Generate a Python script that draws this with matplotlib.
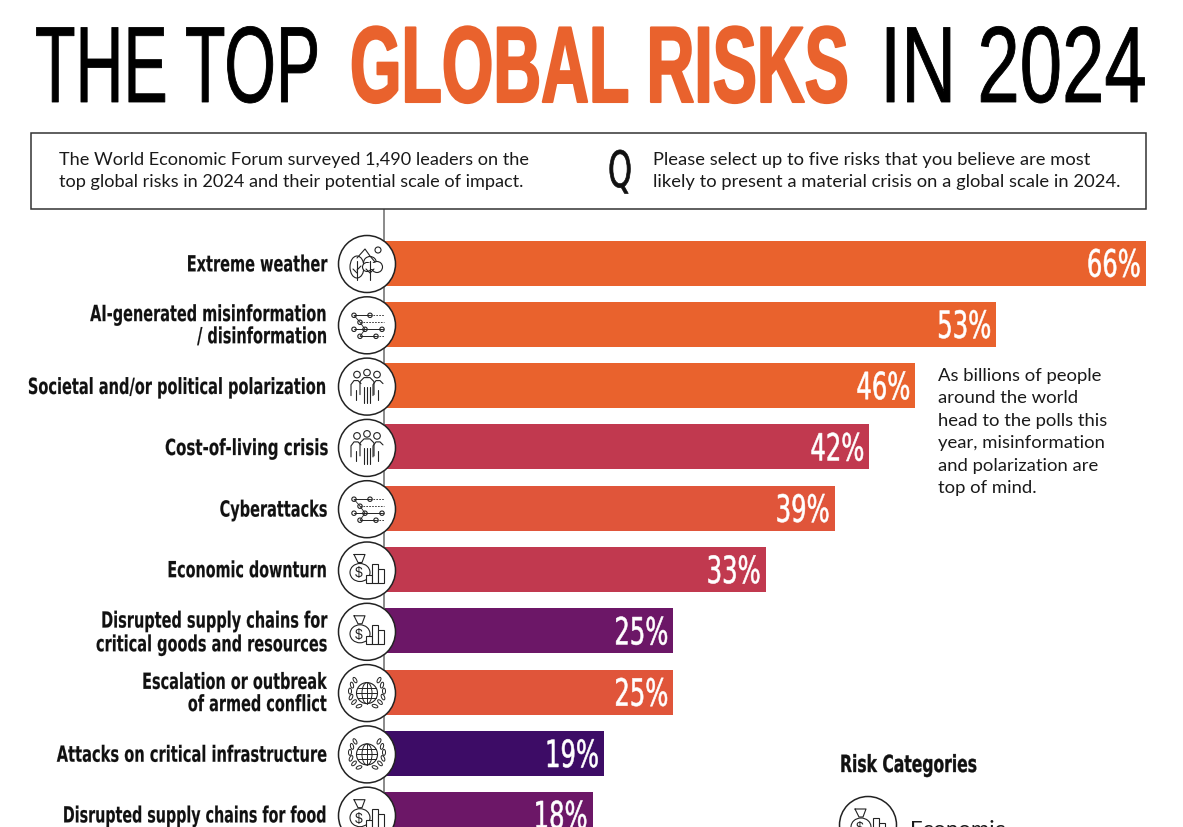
"""The top global risks in 2024: horizontal bar chart with category icons."""

import matplotlib

matplotlib.use("Agg")
import matplotlib.pyplot as plt
from matplotlib.patches import Circle, Ellipse, Rectangle
from matplotlib.patheffects import AbstractPathEffect
from matplotlib.transforms import Affine2D

risks = [
    "Extreme weather",
    "AI-generated misinformation\n/ disinformation",
    "Societal and/or political polarization",
    "Cost-of-living crisis",
    "Cyberattacks",
    "Economic downturn",
    "Disrupted supply chains for\ncritical goods and resources",
    "Escalation or outbreak\nof armed conflict",
    "Attacks on critical infrastructure",
    "Disrupted supply chains for food",
]
shares = [66, 53, 46, 42, 39, 33, 25, 25, 19, 18]
bar_colors = [
    "#E9622D", "#E9622D", "#E9622D", "#C1394F", "#E0553A",
    "#C1394F", "#6C1767", "#E0553A", "#3D0C66", "#6C1767",
]
icons = [
    "tree", "nodes", "people", "people", "nodes",
    "money", "money", "globe", "globe", "money",
]
label_widths = [141, 237, 299, 164, 108, 160, 232, 185, 271, 264]

W, H = 1183, 828
BAR_LEFT, BAR_RIGHT = 385, 1146
ROW_TOP, ROW_STEP = 264, 61.3  # pixel centre of first bar, row pitch
AXES_TOP = 209
SANS = "Liberation Sans"
NARROW = "Liberation Sans Narrow"
BODY = "Lato"
INK = "#1a1a1a"
LINE = "#222222"


class Stretch(AbstractPathEffect):
    """Make text taller about y0; no condensed DIN is installed."""

    def __init__(self, y0, sy, grow=0.0):
        super().__init__()
        self.y0, self.sy, self.grow = y0, sy, grow

    def draw_path(self, renderer, gc, tpath, affine, rgbFace=None):
        tall = affine + Affine2D().translate(0, -self.y0).scale(1, self.sy).translate(0, self.y0)
        gc0 = renderer.new_gc()
        gc0.copy_properties(gc)
        if self.grow:
            gc0.set_linewidth(self.grow)
            gc0.set_foreground(rgbFace)
        renderer.draw_path(gc0, tpath, tall, rgbFace)
        gc0.restore()


def fit_width(fig, text, width, grow=0.0):
    """Shrink a drawn text to `width` pixels, then stretch it back to its height."""
    renderer = fig.canvas.get_renderer()
    box = text.get_window_extent(renderer)
    scale = width / box.width
    text.set_fontsize(text.get_fontsize() * scale)
    box = text.get_window_extent(renderer)
    if text.get_va() == "baseline":
        y0 = text.get_transform().transform(text.get_position())[1]
    else:
        y0 = (box.y0 + box.y1) / 2
    text.set_path_effects([Stretch(y0, 1 / scale, grow)])


fig = plt.figure(figsize=(W / 100, H / 100), dpi=100, facecolor="white")

# bars: x in percent, y in row index, axes box placed to match the pixels
ax = fig.add_axes([BAR_LEFT / W, 0, (BAR_RIGHT - BAR_LEFT) / W, 1 - AXES_TOP / H])
ax.barh(range(len(shares)), shares, height=45 / ROW_STEP, color=bar_colors)
ax.set_xlim(0, 66)
ax.set_ylim((H - ROW_TOP) / ROW_STEP, (AXES_TOP - ROW_TOP) / ROW_STEP)
ax.set_xticks([])
for side in ("top", "right", "bottom"):
    ax.spines[side].set_visible(False)
ax.spines["left"].set_color("#777777")
ax.spines["left"].set_linewidth(1.2)
ax.spines["left"].set_position(("outward", 1))  # resets ticks, so set them up after this
ax.set_facecolor("none")
ax.set_yticks(range(len(risks)), risks)
ax.tick_params(axis="y", length=0, pad=56 * 0.72)
for t in ax.get_yticklabels():
    t.set(family=NARROW, fontweight="bold", fontsize=16, color="#111111", linespacing=1.04)

value_texts = []
for i, share in enumerate(shares):
    t = ax.annotate(f"{share}%", (share, i), xytext=(-3.6, -2), textcoords="offset points",
                    ha="right", va="center", color="white", fontsize=27, family=NARROW)
    value_texts.append(t)

# overlay in image pixels for header, notes and icons
ov = fig.add_axes([0, 0, 1, 1], zorder=3)
ov.set_xlim(0, W)
ov.set_ylim(H, 0)
ov.axis("off")

title_parts = [
    ("THE TOP", 35, 320, "black", "normal", 0.6),
    ("GLOBAL RISKS", 350, 849, "#E9622D", "bold", 1.5),
    ("IN 2024", 880, 1147, "black", "normal", 0.6),
]
title_texts = []
for label, x0, x1, color, weight, grow in title_parts:
    t = ov.text(x0, 103, label, fontsize=78, family=SANS, fontweight=weight, color=color, va="baseline")
    title_texts.append((t, x1 - x0, grow))

ov.add_patch(Rectangle((31.5, 133.5), 1114.5, 76, facecolor="white", edgecolor="#333333", lw=1.1))
ov.text(59, 171, "The World Economic Forum surveyed 1,490 leaders on the\n"
                 "top global risks in 2024 and their potential scale of impact.",
        fontsize=13.1, family=BODY, color=INK, va="center", linespacing=1.47)
ov.text(653, 171, "Please select up to five risks that you believe are most\n"
                  "likely to present a material crisis on a global scale in 2024.",
        fontsize=13.2, family=BODY, color=INK, va="center", linespacing=1.47)
q_text = ov.text(608, 188, "Q", fontsize=36, family=NARROW, color="#111111", va="baseline")

ov.text(938, 432, "As billions of people\naround the world\nhead to the polls this\n"
                  "year, misinformation\nand polarization are\ntop of mind.",
        fontsize=13.3, family=BODY, color=INK, va="center", linespacing=1.5)

legend_title = ov.text(840, 773, "Risk Categories", fontsize=17, family=NARROW, fontweight="bold", color="#111111")
ov.text(910, 836, "Economic", fontsize=16, family=BODY, color=INK, va="baseline")


def line(xs, ys, cx, cy, **kw):
    kw.setdefault("lw", 0.8)
    kw.setdefault("color", LINE)
    ov.plot([cx + x for x in xs], [cy + y for y in ys], solid_capstyle="round", **kw)


def ring(cx, cy, r, fill="white"):
    ov.add_patch(Circle((cx, cy), r, facecolor=fill, edgecolor=LINE, lw=0.8))


def draw_tree(cx, cy):
    line([-10, -2, 3, 8], [-6, -15, -8, -2], cx, cy)
    ring(cx + 11, cy - 14, 3)
    ov.add_patch(Ellipse((cx - 10, cy + 3), 14, 22, facecolor="white", edgecolor=LINE, lw=0.8))
    line([-10, -10], [-3, 16], cx, cy)
    line([-10, -6], [6, 2], cx, cy)
    line([-10, -14], [9, 5], cx, cy)
    for dx, dy, r in [(3, -1, 6.5), (10, 3, 5.5), (0, 3, 4.5)]:
        ring(cx + dx, cy + dy, r)
    ov.add_patch(Rectangle((cx - 1, cy - 1), 11, 6, facecolor="white", edgecolor="none"))
    line([3, 3], [-3, 16], cx, cy)
    line([-1, 3, 7], [5, 9, 5], cx, cy)


def draw_nodes(cx, cy):
    rows = [(-10, [-13, 3]), (-3, [-7]), (4, [-13, -2, 15]), (11, [-7, 9])]
    for dy, xs in rows:
        line([min(xs), max(xs)], [dy, dy], cx, cy, lw=0.7)
        line([max(xs), 17], [dy, dy], cx, cy, lw=0.6, ls=(0, (2, 1.5)))
        for dx in xs:
            ring(cx + dx, cy + dy, 2.2)
    line([-13, -7, -2], [-10, -3, 4], cx, cy, lw=0.6)
    line([-7, -2], [11, 4], cx, cy, lw=0.6)


def draw_people(cx, cy):
    for dx, dy in [(-10, -12), (10, -12), (0, -14)]:
        ring(cx + dx, cy + dy, 3.3)
    for dx, dy in [(-11, -6), (11, -6)]:
        line([dx - 5, dx - 5, dx - 2, dx + 2, dx + 5],
             [dy + 15, dy + 4, dy, dy, dy + 3], cx, cy)
        line([dx, dx], [dy + 9, dy + 19], cx, cy)
    line([-7, -7, -3, 3, 7, 7], [8, -5, -9, -9, -5, 8], cx, cy)
    for dx in (-3, 0, 3):
        line([dx, dx], [0, 16], cx, cy)


def draw_money(cx, cy):
    ov.add_patch(Ellipse((cx - 7, cy + 2), 20, 18, facecolor="white", edgecolor=LINE, lw=0.8))
    line([-13, -2, -5, -9, -13], [-16, -16, -8, -8, -16], cx, cy)
    ov.text(cx - 8, cy + 2, "$", fontsize=10, family=SANS, ha="center", va="center", color=LINE)
    for dx, top in [(-1, 4), (5, -7), (11, -2)]:
        ov.add_patch(Rectangle((cx + dx, cy + top), 6, 12 - top, facecolor="white", edgecolor=LINE, lw=0.8))


def draw_globe(cx, cy):
    ring(cx, cy, 10.5)
    ov.add_patch(Ellipse((cx, cy), 10, 21, facecolor="none", edgecolor=LINE, lw=0.7))
    line([0, 0], [-10.5, 10.5], cx, cy, lw=0.7)
    for dy, half in [(-5, 9), (0, 10.5), (5, 9)]:
        line([-half, half], [dy, dy], cx, cy, lw=0.7)
    for sign in (-1, 1):
        for dx, dy, ang in [(12, -13, 30), (15, -8, 15), (17, -2, 0), (16, 4, -25), (13, 9, -45), (8, 13, -70)]:
            ov.add_patch(Ellipse((cx + sign * dx, cy + dy), 3, 6, angle=sign * ang,
                                 facecolor="white", edgecolor=LINE, lw=0.7))


draw_icon = {"tree": draw_tree, "nodes": draw_nodes, "people": draw_people,
             "money": draw_money, "globe": draw_globe}

for i, kind in enumerate(icons):
    cx, cy = 367, 265 + ROW_STEP * i
    ov.add_patch(Circle((cx, cy), 28.5, facecolor="white", edgecolor=LINE, lw=1.1))
    draw_icon[kind](cx, cy)

ov.add_patch(Circle((868, 826), 28.5, facecolor="white", edgecolor=LINE, lw=1.1))
draw_money(868, 826)

# widths are only known once the layout has been resolved
fig.canvas.draw()
for t, width, grow in title_texts:
    fit_width(fig, t, width, grow)
for t, width in zip(ax.get_yticklabels(), label_widths):
    fit_width(fig, t, width, 0.1)
for t in value_texts:
    fit_width(fig, t, 54, 0.4)
fit_width(fig, q_text, 24, 0.5)
fit_width(fig, legend_title, 137, 0.25)

fig.savefig("out.png", dpi=100)
